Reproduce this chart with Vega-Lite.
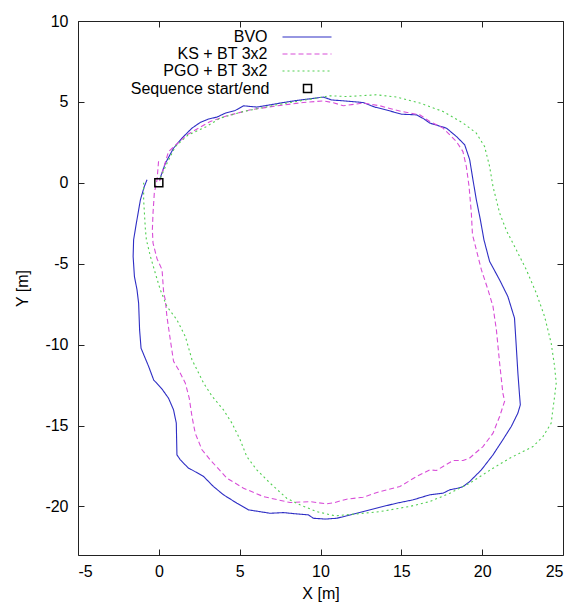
{
  "$schema": "https://vega.github.io/schema/vega-lite/v6.json",
  "width": 485,
  "height": 534,
  "autosize": {"type": "none"},
  "padding": {"left": 78, "top": 21, "right": 13, "bottom": 51},
  "background": "white",
  "config": {"view": {"stroke": null}, "font": "Liberation Sans"},
  "resolve": {"axis": {"x": "independent", "y": "independent"}},
  "layer": [
    {
      "data": {"values": [
        {"s":"BVO","i":0,"x":0.05,"y":0.2},{"s":"BVO","i":1,"x":0.4,"y":1.2},{"s":"BVO","i":2,"x":0.91,"y":2.14},{"s":"BVO","i":3,"x":1.43,"y":2.76},{"s":"BVO","i":4,"x":2.05,"y":3.38},{"s":"BVO","i":5,"x":2.56,"y":3.73},{"s":"BVO","i":6,"x":3.07,"y":3.94},{"s":"BVO","i":7,"x":3.59,"y":4.06},{"s":"BVO","i":8,"x":4.1,"y":4.3},{"s":"BVO","i":9,"x":4.72,"y":4.47},{"s":"BVO","i":10,"x":5.24,"y":4.76},{"s":"BVO","i":11,"x":6.06,"y":4.68},{"s":"BVO","i":12,"x":6.88,"y":4.82},{"s":"BVO","i":13,"x":7.7,"y":4.96},{"s":"BVO","i":14,"x":8.53,"y":5.09},{"s":"BVO","i":15,"x":9.35,"y":5.19},{"s":"BVO","i":16,"x":10.17,"y":5.3},{"s":"BVO","i":17,"x":10.69,"y":5.12},{"s":"BVO","i":18,"x":11.4,"y":5.07},{"s":"BVO","i":19,"x":12.64,"y":4.96},{"s":"BVO","i":20,"x":13.36,"y":4.68},{"s":"BVO","i":21,"x":14.19,"y":4.47},{"s":"BVO","i":22,"x":15.01,"y":4.24},{"s":"BVO","i":23,"x":15.94,"y":4.2},{"s":"BVO","i":24,"x":16.4,"y":3.95},{"s":"BVO","i":25,"x":16.76,"y":3.69},{"s":"BVO","i":26,"x":17.79,"y":3.38},{"s":"BVO","i":27,"x":18.41,"y":2.86},{"s":"BVO","i":28,"x":18.92,"y":2.35},{"s":"BVO","i":29,"x":19.23,"y":1.42},{"s":"BVO","i":30,"x":19.43,"y":0.19},{"s":"BVO","i":31,"x":19.64,"y":-1.05},{"s":"BVO","i":32,"x":19.89,"y":-2.29},{"s":"BVO","i":33,"x":20.11,"y":-3.52},{"s":"BVO","i":34,"x":20.46,"y":-4.86},{"s":"BVO","i":35,"x":21.08,"y":-6.0},{"s":"BVO","i":36,"x":21.59,"y":-7.03},{"s":"BVO","i":37,"x":22.0,"y":-8.36},{"s":"BVO","i":38,"x":22.11,"y":-10.12},{"s":"BVO","i":39,"x":22.21,"y":-11.76},{"s":"BVO","i":40,"x":22.31,"y":-13.1},{"s":"BVO","i":41,"x":22.36,"y":-13.72},{"s":"BVO","i":42,"x":22.21,"y":-14.23},{"s":"BVO","i":43,"x":21.8,"y":-15.06},{"s":"BVO","i":44,"x":21.28,"y":-15.88},{"s":"BVO","i":45,"x":20.67,"y":-16.81},{"s":"BVO","i":46,"x":19.95,"y":-17.74},{"s":"BVO","i":47,"x":19.23,"y":-18.46},{"s":"BVO","i":48,"x":18.82,"y":-18.77},{"s":"BVO","i":49,"x":18.51,"y":-18.87},{"s":"BVO","i":50,"x":18.0,"y":-18.97},{"s":"BVO","i":51,"x":17.58,"y":-19.18},{"s":"BVO","i":52,"x":16.76,"y":-19.28},{"s":"BVO","i":53,"x":15.73,"y":-19.59},{"s":"BVO","i":54,"x":14.7,"y":-19.8},{"s":"BVO","i":55,"x":13.67,"y":-20.05},{"s":"BVO","i":56,"x":12.64,"y":-20.32},{"s":"BVO","i":57,"x":11.62,"y":-20.58},{"s":"BVO","i":58,"x":11.0,"y":-20.73},{"s":"BVO","i":59,"x":10.3,"y":-20.78},{"s":"BVO","i":60,"x":9.56,"y":-20.73},{"s":"BVO","i":61,"x":9.25,"y":-20.52},{"s":"BVO","i":62,"x":8.53,"y":-20.46},{"s":"BVO","i":63,"x":7.7,"y":-20.38},{"s":"BVO","i":64,"x":6.88,"y":-20.42},{"s":"BVO","i":65,"x":5.54,"y":-20.21},{"s":"BVO","i":66,"x":4.83,"y":-19.8},{"s":"BVO","i":67,"x":4.0,"y":-19.28},{"s":"BVO","i":68,"x":3.38,"y":-18.77},{"s":"BVO","i":69,"x":2.77,"y":-18.15},{"s":"BVO","i":70,"x":2.05,"y":-17.74},{"s":"BVO","i":71,"x":1.84,"y":-17.64},{"s":"BVO","i":72,"x":1.33,"y":-17.12},{"s":"BVO","i":73,"x":1.12,"y":-16.81},{"s":"BVO","i":74,"x":1.08,"y":-14.85},{"s":"BVO","i":75,"x":0.91,"y":-14.03},{"s":"BVO","i":76,"x":0.6,"y":-13.31},{"s":"BVO","i":77,"x":0.2,"y":-12.75},{"s":"BVO","i":78,"x":-0.32,"y":-12.18},{"s":"BVO","i":79,"x":-0.63,"y":-11.35},{"s":"BVO","i":80,"x":-1.1,"y":-10.22},{"s":"BVO","i":81,"x":-1.19,"y":-9.09},{"s":"BVO","i":82,"x":-1.25,"y":-7.44},{"s":"BVO","i":83,"x":-1.35,"y":-6.61},{"s":"BVO","i":84,"x":-1.51,"y":-5.79},{"s":"BVO","i":85,"x":-1.59,"y":-4.55},{"s":"BVO","i":86,"x":-1.56,"y":-3.52},{"s":"BVO","i":87,"x":-1.39,"y":-2.49},{"s":"BVO","i":88,"x":-1.14,"y":-1.05},{"s":"BVO","i":89,"x":-0.9,"y":-0.23},{"s":"BVO","i":90,"x":-0.73,"y":0.19},
        {"s":"KS + BT 3x2","i":0,"x":0.05,"y":0.1},{"s":"KS + BT 3x2","i":1,"x":0.35,"y":1.1},{"s":"KS + BT 3x2","i":2,"x":0.6,"y":1.93},{"s":"KS + BT 3x2","i":3,"x":1.74,"y":2.97},{"s":"KS + BT 3x2","i":4,"x":3.18,"y":3.79},{"s":"KS + BT 3x2","i":5,"x":4.21,"y":4.14},{"s":"KS + BT 3x2","i":6,"x":5.65,"y":4.51},{"s":"KS + BT 3x2","i":7,"x":7.3,"y":4.76},{"s":"KS + BT 3x2","i":8,"x":8.94,"y":4.96},{"s":"KS + BT 3x2","i":9,"x":10.17,"y":5.06},{"s":"KS + BT 3x2","i":10,"x":10.8,"y":4.95},{"s":"KS + BT 3x2","i":11,"x":11.41,"y":4.76},{"s":"KS + BT 3x2","i":12,"x":12.64,"y":4.93},{"s":"KS + BT 3x2","i":13,"x":13.67,"y":4.76},{"s":"KS + BT 3x2","i":14,"x":15.01,"y":4.41},{"s":"KS + BT 3x2","i":15,"x":16.14,"y":4.2},{"s":"KS + BT 3x2","i":16,"x":16.76,"y":3.79},{"s":"KS + BT 3x2","i":17,"x":17.58,"y":3.38},{"s":"KS + BT 3x2","i":18,"x":18.41,"y":2.55},{"s":"KS + BT 3x2","i":19,"x":18.81,"y":1.93},{"s":"KS + BT 3x2","i":20,"x":19.02,"y":1.01},{"s":"KS + BT 3x2","i":21,"x":19.19,"y":-0.23},{"s":"KS + BT 3x2","i":22,"x":19.33,"y":-1.87},{"s":"KS + BT 3x2","i":23,"x":19.4,"y":-3.2},{"s":"KS + BT 3x2","i":24,"x":19.64,"y":-4.14},{"s":"KS + BT 3x2","i":25,"x":19.95,"y":-5.37},{"s":"KS + BT 3x2","i":26,"x":20.36,"y":-6.61},{"s":"KS + BT 3x2","i":27,"x":20.67,"y":-7.64},{"s":"KS + BT 3x2","i":28,"x":20.88,"y":-9.09},{"s":"KS + BT 3x2","i":29,"x":21.08,"y":-11.14},{"s":"KS + BT 3x2","i":30,"x":21.28,"y":-13.0},{"s":"KS + BT 3x2","i":31,"x":21.39,"y":-13.5},{"s":"KS + BT 3x2","i":32,"x":21.08,"y":-14.44},{"s":"KS + BT 3x2","i":33,"x":20.67,"y":-15.47},{"s":"KS + BT 3x2","i":34,"x":20.05,"y":-16.3},{"s":"KS + BT 3x2","i":35,"x":19.23,"y":-17.0},{"s":"KS + BT 3x2","i":36,"x":18.82,"y":-17.16},{"s":"KS + BT 3x2","i":37,"x":18.2,"y":-17.16},{"s":"KS + BT 3x2","i":38,"x":17.58,"y":-17.53},{"s":"KS + BT 3x2","i":39,"x":17.17,"y":-17.78},{"s":"KS + BT 3x2","i":40,"x":16.76,"y":-17.74},{"s":"KS + BT 3x2","i":41,"x":15.94,"y":-18.15},{"s":"KS + BT 3x2","i":42,"x":14.91,"y":-18.77},{"s":"KS + BT 3x2","i":43,"x":13.67,"y":-19.08},{"s":"KS + BT 3x2","i":44,"x":12.64,"y":-19.43},{"s":"KS + BT 3x2","i":45,"x":11.62,"y":-19.55},{"s":"KS + BT 3x2","i":46,"x":10.9,"y":-19.75},{"s":"KS + BT 3x2","i":47,"x":10.38,"y":-19.84},{"s":"KS + BT 3x2","i":48,"x":9.35,"y":-19.7},{"s":"KS + BT 3x2","i":49,"x":8.12,"y":-19.76},{"s":"KS + BT 3x2","i":50,"x":6.47,"y":-19.39},{"s":"KS + BT 3x2","i":51,"x":5.24,"y":-18.87},{"s":"KS + BT 3x2","i":52,"x":4.21,"y":-18.25},{"s":"KS + BT 3x2","i":53,"x":3.18,"y":-17.12},{"s":"KS + BT 3x2","i":54,"x":2.67,"y":-16.5},{"s":"KS + BT 3x2","i":55,"x":2.25,"y":-15.47},{"s":"KS + BT 3x2","i":56,"x":2.05,"y":-14.44},{"s":"KS + BT 3x2","i":57,"x":1.88,"y":-13.3},{"s":"KS + BT 3x2","i":58,"x":1.64,"y":-12.38},{"s":"KS + BT 3x2","i":59,"x":1.22,"y":-11.55},{"s":"KS + BT 3x2","i":60,"x":0.91,"y":-11.03},{"s":"KS + BT 3x2","i":61,"x":0.71,"y":-9.7},{"s":"KS + BT 3x2","i":62,"x":0.5,"y":-8.26},{"s":"KS + BT 3x2","i":63,"x":0.4,"y":-7.23},{"s":"KS + BT 3x2","i":64,"x":0.3,"y":-6.82},{"s":"KS + BT 3x2","i":65,"x":0.2,"y":-5.37},{"s":"KS + BT 3x2","i":66,"x":-0.11,"y":-4.7},{"s":"KS + BT 3x2","i":67,"x":-0.36,"y":-3.72},{"s":"KS + BT 3x2","i":68,"x":-0.4,"y":-2.9},{"s":"KS + BT 3x2","i":69,"x":-0.36,"y":-1.87},{"s":"KS + BT 3x2","i":70,"x":-0.28,"y":-0.64},{"s":"KS + BT 3x2","i":71,"x":-0.11,"y":0.19},{"s":"KS + BT 3x2","i":72,"x":-0.01,"y":1.42},
        {"s":"PGO + BT 3x2","i":0,"x":0.1,"y":0.3},{"s":"PGO + BT 3x2","i":1,"x":0.5,"y":1.2},{"s":"PGO + BT 3x2","i":2,"x":1.02,"y":2.24},{"s":"PGO + BT 3x2","i":3,"x":1.8,"y":2.95},{"s":"PGO + BT 3x2","i":4,"x":2.9,"y":3.45},{"s":"PGO + BT 3x2","i":5,"x":3.8,"y":4.0},{"s":"PGO + BT 3x2","i":6,"x":5.24,"y":4.41},{"s":"PGO + BT 3x2","i":7,"x":7.3,"y":4.82},{"s":"PGO + BT 3x2","i":8,"x":9.35,"y":5.17},{"s":"PGO + BT 3x2","i":9,"x":10.59,"y":5.38},{"s":"PGO + BT 3x2","i":10,"x":11.62,"y":5.33},{"s":"PGO + BT 3x2","i":11,"x":13.47,"y":5.44},{"s":"PGO + BT 3x2","i":12,"x":14.7,"y":5.3},{"s":"PGO + BT 3x2","i":13,"x":16.14,"y":4.93},{"s":"PGO + BT 3x2","i":14,"x":17.58,"y":4.41},{"s":"PGO + BT 3x2","i":15,"x":18.82,"y":3.69},{"s":"PGO + BT 3x2","i":16,"x":19.64,"y":3.07},{"s":"PGO + BT 3x2","i":17,"x":20.15,"y":2.24},{"s":"PGO + BT 3x2","i":18,"x":20.46,"y":1.01},{"s":"PGO + BT 3x2","i":19,"x":20.67,"y":-0.23},{"s":"PGO + BT 3x2","i":20,"x":21.08,"y":-1.87},{"s":"PGO + BT 3x2","i":21,"x":21.5,"y":-2.95},{"s":"PGO + BT 3x2","i":22,"x":22.11,"y":-4.14},{"s":"PGO + BT 3x2","i":23,"x":22.73,"y":-5.37},{"s":"PGO + BT 3x2","i":24,"x":23.35,"y":-6.82},{"s":"PGO + BT 3x2","i":25,"x":23.86,"y":-8.26},{"s":"PGO + BT 3x2","i":26,"x":24.27,"y":-9.91},{"s":"PGO + BT 3x2","i":27,"x":24.48,"y":-11.35},{"s":"PGO + BT 3x2","i":28,"x":24.58,"y":-12.38},{"s":"PGO + BT 3x2","i":29,"x":24.48,"y":-13.21},{"s":"PGO + BT 3x2","i":30,"x":24.37,"y":-14.03},{"s":"PGO + BT 3x2","i":31,"x":24.27,"y":-14.85},{"s":"PGO + BT 3x2","i":32,"x":23.76,"y":-15.68},{"s":"PGO + BT 3x2","i":33,"x":23.14,"y":-16.3},{"s":"PGO + BT 3x2","i":34,"x":22.52,"y":-16.61},{"s":"PGO + BT 3x2","i":35,"x":21.7,"y":-17.02},{"s":"PGO + BT 3x2","i":36,"x":20.67,"y":-17.64},{"s":"PGO + BT 3x2","i":37,"x":19.23,"y":-18.56},{"s":"PGO + BT 3x2","i":38,"x":18.0,"y":-19.18},{"s":"PGO + BT 3x2","i":39,"x":16.76,"y":-19.7},{"s":"PGO + BT 3x2","i":40,"x":15.52,"y":-20.0},{"s":"PGO + BT 3x2","i":41,"x":13.67,"y":-20.32},{"s":"PGO + BT 3x2","i":42,"x":12.23,"y":-20.46},{"s":"PGO + BT 3x2","i":43,"x":10.9,"y":-20.58},{"s":"PGO + BT 3x2","i":44,"x":9.77,"y":-20.32},{"s":"PGO + BT 3x2","i":45,"x":8.73,"y":-19.9},{"s":"PGO + BT 3x2","i":46,"x":7.91,"y":-19.49},{"s":"PGO + BT 3x2","i":47,"x":6.88,"y":-18.56},{"s":"PGO + BT 3x2","i":48,"x":6.06,"y":-17.74},{"s":"PGO + BT 3x2","i":49,"x":5.44,"y":-16.92},{"s":"PGO + BT 3x2","i":50,"x":5.03,"y":-15.88},{"s":"PGO + BT 3x2","i":51,"x":4.52,"y":-14.85},{"s":"PGO + BT 3x2","i":52,"x":4.0,"y":-14.03},{"s":"PGO + BT 3x2","i":53,"x":3.3,"y":-13.2},{"s":"PGO + BT 3x2","i":54,"x":2.77,"y":-12.38},{"s":"PGO + BT 3x2","i":55,"x":2.05,"y":-10.93},{"s":"PGO + BT 3x2","i":56,"x":1.64,"y":-9.5},{"s":"PGO + BT 3x2","i":57,"x":1.12,"y":-8.47},{"s":"PGO + BT 3x2","i":58,"x":0.5,"y":-7.64},{"s":"PGO + BT 3x2","i":59,"x":0.09,"y":-6.61},{"s":"PGO + BT 3x2","i":60,"x":-0.22,"y":-5.58},{"s":"PGO + BT 3x2","i":61,"x":-0.52,"y":-4.55},{"s":"PGO + BT 3x2","i":62,"x":-0.77,"y":-3.52},{"s":"PGO + BT 3x2","i":63,"x":-0.83,"y":-2.9},{"s":"PGO + BT 3x2","i":64,"x":-0.94,"y":-1.05},{"s":"PGO + BT 3x2","i":65,"x":-0.94,"y":0.0}
      ]},
      "mark": {"type": "line", "strokeWidth": 1.1},
      "encoding": {
        "x": {"field": "x", "type": "quantitative", "scale": {"domain": [-5, 25], "nice": false, "zero": false},
          "axis": {"orient": "bottom", "values": [-5, 0, 5, 10, 15, 20, 25], "labelExpr": "'' + datum.value", "grid": false, "tickSize": -6, "tickColor": "#222", "domainColor": "#222", "labelFontSize": 16, "labelFont": "Liberation Sans", "labelColor": "#000", "labelPadding": 14, "title": "X [m]", "titleFontSize": 16, "titleFont": "Liberation Sans", "titleFontWeight": "normal", "titleColor": "#000", "titlePadding": 6}},
        "y": {"field": "y", "type": "quantitative", "scale": {"domain": [-23, 10], "nice": false, "zero": false},
          "axis": {"orient": "left", "values": [-20, -15, -10, -5, 0, 5, 10], "labelExpr": "'' + datum.value", "grid": false, "tickSize": -6, "tickColor": "#222", "domainColor": "#222", "labelFontSize": 16, "labelFont": "Liberation Sans", "labelColor": "#000", "labelPadding": 16, "title": "Y [m]", "titleFontSize": 16, "titleFont": "Liberation Sans", "titleFontWeight": "normal", "titleColor": "#000", "titlePadding": 14}},
        "order": {"field": "i", "type": "quantitative"},
        "color": {"field": "s", "type": "nominal",
          "scale": {"domain": ["BVO", "KS + BT 3x2", "PGO + BT 3x2"], "range": ["#2e2ec4", "#d84ed8", "#52cf52"]},
          "legend": {"orient": "none", "legendX": 221, "legendY": 8, "title": null, "symbolType": "M-4.9,0H4.9", "symbolSize": 100, "symbolStrokeWidth": 1.2, "labelAlign": "right", "labelOffset": -47.5, "labelFontSize": 16, "labelFont": "Liberation Sans", "labelColor": "#000", "rowPadding": 1, "padding": 0, "labelLimit": 300}},
        "strokeDash": {"field": "s", "type": "nominal",
          "scale": {"domain": ["BVO", "KS + BT 3x2", "PGO + BT 3x2"], "range": [[1, 0], [5, 3], [2, 3]]}}
      }
    },
    {
      "data": {"values": [{"x": 0, "y": 0, "m": "Sequence start/end"}]},
      "mark": {"type": "point", "filled": false, "size": 64, "strokeWidth": 1.5, "color": "#000", "opacity": 1},
      "encoding": {
        "x": {"field": "x", "type": "quantitative", "scale": {"domain": [-5, 25], "nice": false, "zero": false},
          "axis": {"orient": "top", "values": [-5, 0, 5, 10, 15, 20, 25], "labels": false, "grid": false, "tickSize": -6, "tickColor": "#222", "domainColor": "#222", "title": null}},
        "y": {"field": "y", "type": "quantitative", "scale": {"domain": [-23, 10], "nice": false, "zero": false},
          "axis": {"orient": "right", "values": [-20, -15, -10, -5, 0, 5, 10], "labels": false, "grid": false, "tickSize": -6, "tickColor": "#222", "domainColor": "#222", "title": null}},
        "shape": {"field": "m", "type": "nominal", "scale": {"range": ["square"]},
          "legend": {"orient": "none", "legendX": 221.5, "legendY": 59.5, "title": null, "symbolSize": 64, "symbolStrokeColor": "#000", "symbolStrokeWidth": 1.5, "symbolFillColor": "transparent", "labelAlign": "right", "labelOffset": -46, "labelFontSize": 16, "labelFont": "Liberation Sans", "labelColor": "#000", "padding": 0, "labelLimit": 300}}
      }
    }
  ]
}
